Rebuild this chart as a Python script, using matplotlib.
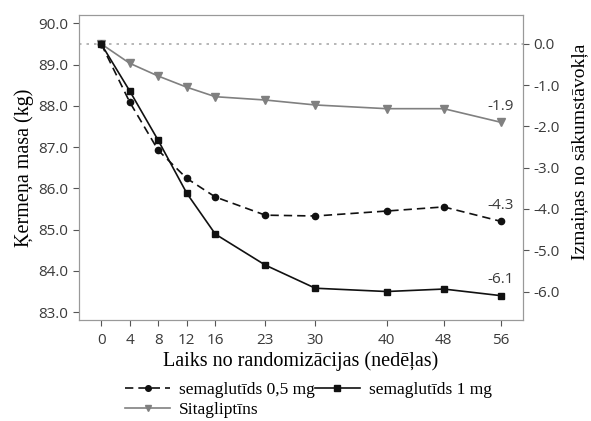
import matplotlib
matplotlib.use('Agg')
import matplotlib.pyplot as plt

# weeks since randomisation
weeks = [0, 4, 8, 12, 16, 23, 30, 40, 48, 56]

# body weight (kg)
sema_05 = [89.5, 88.09, 86.92, 86.24, 85.79, 85.35, 85.33, 85.45, 85.55, 85.2]
sema_1 = [89.5, 88.36, 87.16, 85.88, 84.89, 84.14, 83.58, 83.50, 83.56, 83.4]
sita = [89.5, 89.03, 88.72, 88.45, 88.22, 88.14, 88.02, 87.93, 87.93, 87.6]

baseline = 89.5
end_labels = ['-4.3', '-6.1', '-1.9']

left_ticks = [83.0, 84.0, 85.0, 86.0, 87.0, 88.0, 89.0, 90.0]
right_ticks = [0.0, -1.0, -2.0, -3.0, -4.0, -5.0, -6.0]

tick_font = 'Open Sans'
label_font = 'Liberation Serif'
tick_col = '#3a3a3a'
spine_col = '#999999'

fig = plt.figure(figsize=(5.91, 4.21), dpi=100)
ax = fig.add_axes([0.1337, 0.2399, 0.885 - 0.1337, 0.9644 - 0.2399])

ax.axhline(baseline, color='#aaaaaa', linestyle=(0, (1.5, 3)), linewidth=1.2, zorder=1)

l1, = ax.plot(weeks, sema_05, color='#111111', linestyle=(0, (5, 3)), linewidth=1.2,
              marker='o', markersize=4.5, label='semaglutīds 0,5 mg', zorder=3)
l2, = ax.plot(weeks, sema_1, color='#111111', linestyle='-', linewidth=1.2,
              marker='s', markersize=4.5, label='semaglutīds 1 mg', zorder=3)
l3, = ax.plot(weeks, sita, color='#808080', linestyle='-', linewidth=1.2,
              marker='v', markersize=5.5, label='Sitagliptīns', zorder=2)

for series, txt in zip([sema_05, sema_1, sita], end_labels):
    ax.annotate(txt, (weeks[-1], series[-1]), xytext=(0, 6), textcoords='offset points',
                ha='center', va='bottom', fontsize=11, family=tick_font, color=tick_col)

ax.set_xlim(-3.1, 59.1)
ax.set_ylim(82.81, 90.2)
ax.set_xticks(weeks)
ax.set_xticklabels([str(w) for w in weeks])
ax.set_yticks(left_ticks)
ax.set_yticklabels(['%.1f' % v for v in left_ticks])

ax2 = ax.twinx()
ax2.set_ylim(82.81 - baseline, 90.2 - baseline)
ax2.set_yticks(right_ticks)
ax2.set_yticklabels(['%.1f' % v for v in right_ticks])

for a in (ax, ax2):
    for s in a.spines.values():
        s.set_color(spine_col)
    a.tick_params(colors=tick_col, labelsize=11, length=4, color='#555555')
    for t in a.get_xticklabels() + a.get_yticklabels():
        t.set_family(tick_font)
ax.tick_params(axis='x', pad=5)

ax.set_xlabel('Laiks no randomizācijas (nedēļas)', family=label_font, fontsize=14.5, labelpad=3)
ax.set_ylabel('Ķermeņa masa (kg)', family=label_font, fontsize=14.5, labelpad=3)
# right-hand label, placed by hand so it stays inside the figure
fig.text(0.981, 0.64, 'Izmaiņas no sākumstāvokļa', rotation=90, ha='center', va='center',
         family=label_font, fontsize=14)

fig.legend(handles=[l1, l3, l2], loc='upper left', bbox_to_anchor=(0.2115, 0.093), ncol=2,
           frameon=False, prop={'family': label_font, 'size': 12.5}, handlelength=2.6,
           handletextpad=0.5, columnspacing=0.0, labelspacing=0.2, borderpad=0,
           borderaxespad=0, markerscale=0.9)

fig.savefig('out.png', dpi=100)
